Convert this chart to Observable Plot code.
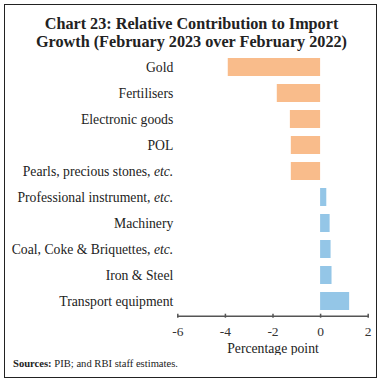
<!DOCTYPE html>
<html>
<head>
<meta charset="utf-8">
<script src="https://cdn.jsdelivr.net/npm/d3@7"></script>
<script src="https://cdn.jsdelivr.net/npm/@observablehq/plot@0.6"></script>
<style>
  html, body { margin: 0; padding: 0; background: #fff; }
  #wrap { position: relative; width: 383px; height: 383px; overflow: hidden; font-family: "Liberation Serif", serif; color: #222; }
  #border { position: absolute; left: 4px; top: 4px; width: 371px; height: 372px; border: 1.5px solid #222; }
  #title { position: absolute; left: 0; width: 383px; top: 15px; text-align: center; font-weight: bold; font-size: 16.2px; line-height: 18px; color: #222; }
  #chart { position: absolute; left: 0; top: 50px; }
  #caption { position: absolute; left: 13px; top: 358.3px; font-size: 10.6px; line-height: 12px; color: #222; }
</style>
</head>
<body>
<div id="wrap">
  <div id="border"></div>
  <div id="title">Chart 23: Relative Contribution to Import<br>Growth (February 2023 over February 2022)</div>
  <div id="chart"></div>
  <div id="caption"><b>Sources:</b> PIB; and RBI staff estimates.</div>
</div>
<script>
const categories = [
  "Gold",
  "Fertilisers",
  "Electronic goods",
  "POL",
  "Pearls, precious stones, etc.",
  "Professional instrument, etc.",
  "Machinery",
  "Coal, Coke & Briquettes, etc.",
  "Iron & Steel",
  "Transport equipment"
];
const values = [-3.88, -1.82, -1.27, -1.23, -1.23, 0.26, 0.40, 0.44, 0.48, 1.22];
const xTicks = [-6, -4, -2, 0, 2];
const axisLabel = "Percentage point";

const data = categories.map((c, i) => ({category: c, value: values[i]}));

const plot = Plot.plot({
  width: 383,
  height: 305,
  marginTop: 2.7,
  marginBottom: 39.3,
  marginLeft: 177.3,
  marginRight: 15.3,
  style: {fontFamily: "Liberation Serif, serif", fontSize: "13px", color: "#222", background: "transparent"},
  x: {domain: [-6, 2], ticks: xTicks, label: null},
  y: {domain: categories, paddingInner: 0.3, paddingOuter: 0.152, label: null},
  marks: [
    Plot.barX(data, {
      y: "category",
      x: "value",
      fill: d => d.value < 0 ? "#F9BC8B" : "#94C6E7"
    }),
    Plot.frame({anchor: "bottom", stroke: "#555", strokeWidth: 1.5}),
    Plot.axisX({ticks: xTicks, tickFormat: d => String(d), tickSize: 4, dy: -2, tickPadding: 8.5, stroke: "#555", strokeWidth: 1.5, fill: "#333", fontSize: 13.5, label: null}),
    Plot.axisY({tickSize: 0, tickPadding: 4.5, fill: "#222", fontSize: 13.7, label: null}),
    Plot.text([axisLabel], {frameAnchor: "bottom", dy: 37, fontSize: 13.7, fill: "#222"})
  ]
});
document.getElementById("chart").appendChild(plot);

// italicise "etc." in category labels
plot.querySelectorAll("text").forEach(t => {
  const s = t.textContent;
  const idx = s.indexOf("etc.");
  if (idx >= 0 && t.children.length === 0) {
    t.textContent = "";
    const a = document.createElementNS("http://www.w3.org/2000/svg", "tspan");
    a.textContent = s.slice(0, idx);
    const b = document.createElementNS("http://www.w3.org/2000/svg", "tspan");
    b.textContent = "etc.";
    b.setAttribute("font-style", "italic");
    t.appendChild(a);
    t.appendChild(b);
  }
});
</script>
</body>
</html>
